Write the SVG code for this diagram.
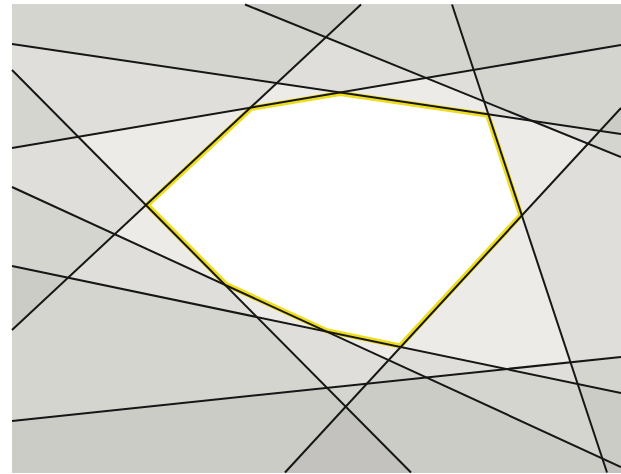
<svg xmlns="http://www.w3.org/2000/svg" width="621" height="474" viewBox="0 0 621 474">
  <style>
    .hp { fill: #000; fill-opacity: 0.3; stroke: none; }
    .ln { stroke: #161616; stroke-width: 2; fill: none; stroke-linecap: butt; }
    .glow { fill: none; stroke: #EEDD1E; stroke-linejoin: miter; }
  </style>
  <defs>
    <filter id="depth" filterUnits="userSpaceOnUse" x="12" y="4.5" width="609" height="468" color-interpolation-filters="sRGB">
      <feColorMatrix type="matrix" values="0 0 0 1 0  0 0 0 1 0  0 0 0 1 0  0 0 0 0 1"/>
      <feComponentTransfer>
        <feFuncR type="table" tableValues="1 1 1 1 1 1 .9255 .9255 .9255 .9255 .9255 .9255 .9255 .9255 .9255 .9255 .9255 .8784 .8784 .8784 .8784 .8784 .8784 .8784 .8392 .8392 .8392 .8392 .8392 .8039 .8039 .8039 .7686 .7686 .7686 .7373 .7373 .7373 .7373 .7373 .7373"/>
        <feFuncG type="table" tableValues="1 1 1 1 1 1 .9216 .9216 .9216 .9216 .9216 .9216 .9216 .9216 .9216 .9216 .9216 .8745 .8745 .8745 .8745 .8745 .8745 .8745 .8353 .8353 .8353 .8353 .8353 .8 .8 .8 .7647 .7647 .7647 .7333 .7333 .7333 .7333 .7333 .7333"/>
        <feFuncB type="table" tableValues="1 1 1 1 1 1 .9059 .9059 .9059 .9059 .9059 .9059 .9059 .9059 .9059 .9059 .9059 .8588 .8588 .8588 .8588 .8588 .8588 .8588 .8196 .8196 .8196 .8196 .8196 .7843 .7843 .7843 .749 .749 .749 .7176 .7176 .7176 .7176 .7176 .7176"/>
      </feComponentTransfer>
    </filter>
    <clipPath id="cellClip">
      <polygon points="146.05,205.06 250.55,107.65 340.2,92.5 488.39,114.4 521.88,215.38 400.39,346.99 326.45,331.57 225.6,285.2"/>
    </clipPath>
  </defs>
  <rect width="621" height="474" fill="#ffffff"/>
  <g id="faces" filter="url(#depth)">
    <polygon class="hp" points="-597,-46 1230,224 1230,-2000 -597,-2000"/>
    <polygon class="hp" points="-597,251 1230,-58 1230,-2000 -597,-2000"/>
    <polygon class="hp" points="-387,-332 810,874 -1190,874 -2387,-332"/>
    <polygon class="hp" points="-337,655 710,-321 -1290,-321 -2337,655"/>
    <polygon class="hp" points="-597,-93 1230,747 1230,2500 -597,2500"/>
    <polygon class="hp" points="-131,-148 997,309 997,-2000 -131,-2000"/>
    <polygon class="hp" points="297,-463 762,939 2762,939 2297,-463"/>
    <polygon class="hp" points="957,-256 -51,836 1949,836 2957,-256"/>
    <polygon class="hp" points="-597,485 1230,293 1230,2500 -597,2500"/>
    <polygon class="hp" points="-597,139 1230,520 1230,2500 -597,2500"/>
  </g>
  <g id="cell">
    <polygon class="glow" stroke-width="7" clip-path="url(#cellClip)" points="146.05,205.06 250.55,107.65 340.2,92.5 488.39,114.4 521.88,215.38 400.39,346.99 326.45,331.57 225.6,285.2"/>
    <polygon class="glow" stroke-width="3.6" points="146.05,205.06 250.55,107.65 340.2,92.5 488.39,114.4 521.88,215.38 400.39,346.99 326.45,331.57 225.6,285.2"/>
  </g>
  <g id="lines">
    <line class="ln" x1="12" y1="44" x2="621" y2="134"/>
    <line class="ln" x1="12" y1="148" x2="621" y2="45"/>
    <line class="ln" x1="12" y1="70" x2="411" y2="472.5"/>
    <line class="ln" x1="12" y1="330" x2="361" y2="4.5"/>
    <line class="ln" x1="12" y1="187" x2="621" y2="467"/>
    <line class="ln" x1="245" y1="4.5" x2="621" y2="157"/>
    <line class="ln" x1="452" y1="4.5" x2="607" y2="472.5"/>
    <line class="ln" x1="621" y1="108" x2="285" y2="472.5"/>
    <line class="ln" x1="12" y1="421" x2="621" y2="357"/>
    <line class="ln" x1="12" y1="266" x2="621" y2="393"/>
  </g>
</svg>
